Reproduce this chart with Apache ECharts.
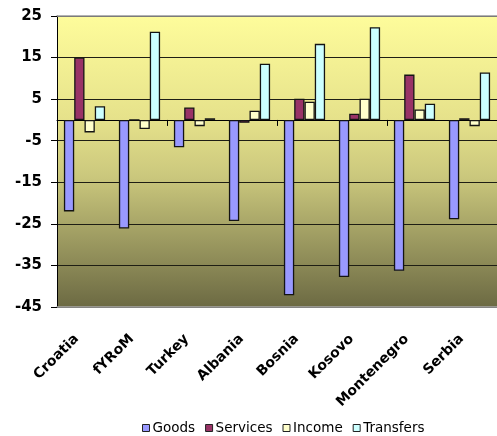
<!DOCTYPE html>
<html>
<head>
<meta charset="utf-8">
<script src="https://cdn.jsdelivr.net/npm/echarts@6/dist/echarts.min.js"></script>
<style>
  html, body { margin: 0; padding: 0; background: #ffffff; }
  #chart { width: 497px; height: 436px; }
</style>
</head>
<body>
<div id="chart"></div>
<script>
// Current-account components by country (% of GDP)
const countries = ['Croatia', 'fYRoM', 'Turkey', 'Albania', 'Bosnia', 'Kosovo', 'Montenegro', 'Serbia'];
const goods     = [-22.0, -26.1, -6.6, -24.3, -42.2, -37.8, -36.3, -23.9];
const services  = [15.0, 0.0, 3.0, -0.7, 5.1, 1.5, 10.9, 0.4];
const income    = [-3.0, -2.2, -1.5, 2.2, 4.4, 5.1, 2.5, -1.5];
const transfers = [3.3, 21.2, 0.4, 13.5, 18.3, 22.3, 3.9, 11.4];
const seriesNames = ['Goods', 'Services', 'Income', 'Transfers'];
const yMin = -45, yMax = 25, yStep = 10;

const chart = echarts.init(document.getElementById('chart'), null, { renderer: 'canvas' });

const colors = ['#9999FF', '#993366', '#FFFFCC', '#CCFFFF'];
const values = [goods, services, income, transfers];

const barSeries = seriesNames.map((name, i) => ({
  name: name,
  type: 'bar',
  xAxisIndex: 0,
  data: values[i],
  barWidth: 10.3,
  barGap: '0%',
  itemStyle: { color: colors[i], borderColor: '#141414', borderWidth: 1.3 },
  emphasis: { disabled: true }
}));

chart.setOption({
  animation: false,
  grid: {
    left: 57, top: 16, bottom: 129, width: 448,
    show: true,
    borderWidth: 0,
    backgroundColor: new echarts.graphic.LinearGradient(0, 0, 0, 1, [
      { offset: 0, color: '#FEFC9B' },
      { offset: 0.35, color: '#E6E28B' },
      { offset: 0.55, color: '#CBC87D' },
      { offset: 1, color: '#6C6A43' }
    ])
  },
  legend: {
    bottom: -4,
    left: 137,
    itemWidth: 7,
    itemHeight: 7,
    itemGap: 10,
    icon: 'rect',
    textStyle: { fontFamily: 'DejaVu Sans', fontSize: 13.5, color: '#000', padding: [0, 0, 0, -2] },
    itemStyle: { borderColor: '#222', borderWidth: 1 },
    data: seriesNames
  },
  xAxis: [
    {
      type: 'category',
      data: countries,
      axisLine: { onZero: true, lineStyle: { color: '#000', width: 1 } },
      axisTick: { show: true, length: 6, inside: false, lineStyle: { color: '#000' } },
      axisLabel: { show: false },
      splitLine: { show: false }
    },
    {
      type: 'category',
      data: countries,
      position: 'bottom',
      axisLine: { show: true, onZero: false, lineStyle: { color: '#A8A8A8', width: 1.5 } },
      axisTick: { show: false },
      axisLabel: {
        show: true,
        interval: 0,
        rotate: 45,
        margin: 22,
        padding: [0, 11, 0, 0],
        fontFamily: 'DejaVu Sans',
        fontWeight: 'bold',
        fontSize: 14,
        color: '#000'
      }
    },
    {
      type: 'category',
      data: countries,
      position: 'top',
      axisLine: { show: true, onZero: false, lineStyle: { color: '#9A9A9A', width: 1.5 } },
      axisTick: { show: false },
      axisLabel: { show: false }
    }
  ],
  yAxis: {
    type: 'value',
    min: yMin,
    max: yMax,
    interval: yStep,
    axisLine: { show: true, lineStyle: { color: '#000', width: 1 } },
    axisTick: { show: true, length: 6, lineStyle: { color: '#000' } },
    axisLabel: {
      margin: 15,
      fontFamily: 'DejaVu Sans',
      fontWeight: 'bold',
      fontSize: 15,
      color: '#000'
    },
    splitLine: {
      show: true,
      lineStyle: { color: '#1E1E14', width: 1 }
    }
  },
  series: barSeries
});
</script>
</body>
</html>
